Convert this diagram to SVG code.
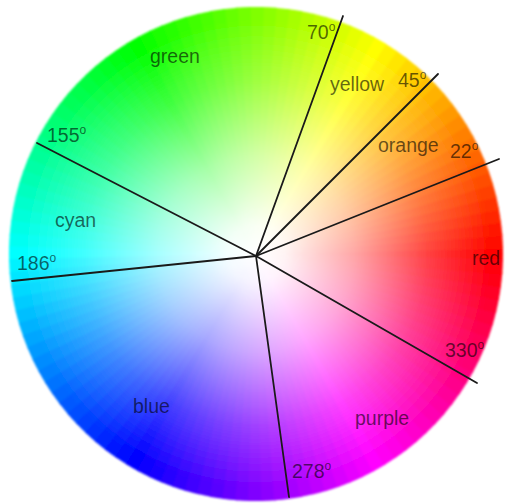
<svg xmlns="http://www.w3.org/2000/svg" xmlns:xlink="http://www.w3.org/1999/xlink" width="507" height="504" viewBox="0 0 507 504">
<style>
.lbl{font-family:"Liberation Sans",Arial,sans-serif;font-size:19.5px;fill:#000;fill-opacity:0.6}
.sup{font-size:12px}
.ln{stroke:#1a1a1a;stroke-width:1.8;fill:none;stroke-linecap:round}
</style>
<defs>
<path id="w" d="M0,0 L246.88,7.76 A247,247 0 0 0 246.88,-7.76 Z"/>
<radialGradient id="wh" cx="0" cy="0" r="247" gradientUnits="userSpaceOnUse">
<stop offset="0" stop-color="#fff" stop-opacity="1"/>
<stop offset="0.12" stop-color="#fff" stop-opacity="0.95"/>
<stop offset="0.4" stop-color="#fff" stop-opacity="0.65"/>
<stop offset="0.7" stop-color="#fff" stop-opacity="0.25"/>
<stop offset="0.95" stop-color="#fff" stop-opacity="0"/>
</radialGradient>
<filter id="soft" x="-5%" y="-5%" width="110%" height="110%"><feGaussianBlur stdDeviation="1.2"/></filter>
</defs>
<rect width="507" height="504" fill="#fff"/>
<g id="wheel" transform="translate(256,254)" filter="url(#soft)">
<use href="#w" transform="rotate(0)" fill="hsl(0,100%,50%)"/>
<use href="#w" transform="rotate(-3)" fill="hsl(3,100%,50%)"/>
<use href="#w" transform="rotate(-6)" fill="hsl(6,100%,50%)"/>
<use href="#w" transform="rotate(-9)" fill="hsl(9,100%,50%)"/>
<use href="#w" transform="rotate(-12)" fill="hsl(12,100%,50%)"/>
<use href="#w" transform="rotate(-15)" fill="hsl(15,100%,50%)"/>
<use href="#w" transform="rotate(-18)" fill="hsl(18,100%,50%)"/>
<use href="#w" transform="rotate(-21)" fill="hsl(21,100%,50%)"/>
<use href="#w" transform="rotate(-24)" fill="hsl(24,100%,50%)"/>
<use href="#w" transform="rotate(-27)" fill="hsl(27,100%,50%)"/>
<use href="#w" transform="rotate(-30)" fill="hsl(30,100%,50%)"/>
<use href="#w" transform="rotate(-33)" fill="hsl(33,100%,50%)"/>
<use href="#w" transform="rotate(-36)" fill="hsl(36,100%,50%)"/>
<use href="#w" transform="rotate(-39)" fill="hsl(39,100%,50%)"/>
<use href="#w" transform="rotate(-42)" fill="hsl(42,100%,50%)"/>
<use href="#w" transform="rotate(-45)" fill="hsl(45,100%,50%)"/>
<use href="#w" transform="rotate(-48)" fill="hsl(48,100%,50%)"/>
<use href="#w" transform="rotate(-51)" fill="hsl(51,100%,50%)"/>
<use href="#w" transform="rotate(-54)" fill="hsl(54,100%,50%)"/>
<use href="#w" transform="rotate(-57)" fill="hsl(57,100%,50%)"/>
<use href="#w" transform="rotate(-60)" fill="hsl(60,100%,50%)"/>
<use href="#w" transform="rotate(-63)" fill="hsl(63,100%,50%)"/>
<use href="#w" transform="rotate(-66)" fill="hsl(66,100%,50%)"/>
<use href="#w" transform="rotate(-69)" fill="hsl(69,100%,50%)"/>
<use href="#w" transform="rotate(-72)" fill="hsl(72,100%,50%)"/>
<use href="#w" transform="rotate(-75)" fill="hsl(75,100%,50%)"/>
<use href="#w" transform="rotate(-78)" fill="hsl(78,100%,50%)"/>
<use href="#w" transform="rotate(-81)" fill="hsl(81,100%,50%)"/>
<use href="#w" transform="rotate(-84)" fill="hsl(84,100%,50%)"/>
<use href="#w" transform="rotate(-87)" fill="hsl(87,100%,50%)"/>
<use href="#w" transform="rotate(-90)" fill="hsl(90,100%,50%)"/>
<use href="#w" transform="rotate(-93)" fill="hsl(93,100%,50%)"/>
<use href="#w" transform="rotate(-96)" fill="hsl(96,100%,50%)"/>
<use href="#w" transform="rotate(-99)" fill="hsl(99,100%,50%)"/>
<use href="#w" transform="rotate(-102)" fill="hsl(102,100%,50%)"/>
<use href="#w" transform="rotate(-105)" fill="hsl(105,100%,50%)"/>
<use href="#w" transform="rotate(-108)" fill="hsl(108,100%,50%)"/>
<use href="#w" transform="rotate(-111)" fill="hsl(111,100%,50%)"/>
<use href="#w" transform="rotate(-114)" fill="hsl(114,100%,50%)"/>
<use href="#w" transform="rotate(-117)" fill="hsl(117,100%,50%)"/>
<use href="#w" transform="rotate(-120)" fill="hsl(120,100%,50%)"/>
<use href="#w" transform="rotate(-123)" fill="hsl(123,100%,50%)"/>
<use href="#w" transform="rotate(-126)" fill="hsl(126,100%,50%)"/>
<use href="#w" transform="rotate(-129)" fill="hsl(129,100%,50%)"/>
<use href="#w" transform="rotate(-132)" fill="hsl(132,100%,50%)"/>
<use href="#w" transform="rotate(-135)" fill="hsl(135,100%,50%)"/>
<use href="#w" transform="rotate(-138)" fill="hsl(138,100%,50%)"/>
<use href="#w" transform="rotate(-141)" fill="hsl(141,100%,50%)"/>
<use href="#w" transform="rotate(-144)" fill="hsl(144,100%,50%)"/>
<use href="#w" transform="rotate(-147)" fill="hsl(147,100%,50%)"/>
<use href="#w" transform="rotate(-150)" fill="hsl(150,100%,50%)"/>
<use href="#w" transform="rotate(-153)" fill="hsl(153,100%,50%)"/>
<use href="#w" transform="rotate(-156)" fill="hsl(156,100%,50%)"/>
<use href="#w" transform="rotate(-159)" fill="hsl(159,100%,50%)"/>
<use href="#w" transform="rotate(-162)" fill="hsl(162,100%,50%)"/>
<use href="#w" transform="rotate(-165)" fill="hsl(165,100%,50%)"/>
<use href="#w" transform="rotate(-168)" fill="hsl(168,100%,50%)"/>
<use href="#w" transform="rotate(-171)" fill="hsl(171,100%,50%)"/>
<use href="#w" transform="rotate(-174)" fill="hsl(174,100%,50%)"/>
<use href="#w" transform="rotate(-177)" fill="hsl(177,100%,50%)"/>
<use href="#w" transform="rotate(-180)" fill="hsl(180,100%,50%)"/>
<use href="#w" transform="rotate(-183)" fill="hsl(183,100%,50%)"/>
<use href="#w" transform="rotate(-186)" fill="hsl(186,100%,50%)"/>
<use href="#w" transform="rotate(-189)" fill="hsl(189,100%,50%)"/>
<use href="#w" transform="rotate(-192)" fill="hsl(192,100%,50%)"/>
<use href="#w" transform="rotate(-195)" fill="hsl(195,100%,50%)"/>
<use href="#w" transform="rotate(-198)" fill="hsl(198,100%,50%)"/>
<use href="#w" transform="rotate(-201)" fill="hsl(201,100%,50%)"/>
<use href="#w" transform="rotate(-204)" fill="hsl(204,100%,50%)"/>
<use href="#w" transform="rotate(-207)" fill="hsl(207,100%,50%)"/>
<use href="#w" transform="rotate(-210)" fill="hsl(210,100%,50%)"/>
<use href="#w" transform="rotate(-213)" fill="hsl(213,100%,50%)"/>
<use href="#w" transform="rotate(-216)" fill="hsl(216,100%,50%)"/>
<use href="#w" transform="rotate(-219)" fill="hsl(219,100%,50%)"/>
<use href="#w" transform="rotate(-222)" fill="hsl(222,100%,50%)"/>
<use href="#w" transform="rotate(-225)" fill="hsl(225,100%,50%)"/>
<use href="#w" transform="rotate(-228)" fill="hsl(228,100%,50%)"/>
<use href="#w" transform="rotate(-231)" fill="hsl(231,100%,50%)"/>
<use href="#w" transform="rotate(-234)" fill="hsl(234,100%,50%)"/>
<use href="#w" transform="rotate(-237)" fill="hsl(237,100%,50%)"/>
<use href="#w" transform="rotate(-240)" fill="hsl(240,100%,50%)"/>
<use href="#w" transform="rotate(-243)" fill="hsl(243,100%,50%)"/>
<use href="#w" transform="rotate(-246)" fill="hsl(246,100%,50%)"/>
<use href="#w" transform="rotate(-249)" fill="hsl(249,100%,50%)"/>
<use href="#w" transform="rotate(-252)" fill="hsl(252,100%,50%)"/>
<use href="#w" transform="rotate(-255)" fill="hsl(255,100%,50%)"/>
<use href="#w" transform="rotate(-258)" fill="hsl(258,100%,50%)"/>
<use href="#w" transform="rotate(-261)" fill="hsl(261,100%,50%)"/>
<use href="#w" transform="rotate(-264)" fill="hsl(264,100%,50%)"/>
<use href="#w" transform="rotate(-267)" fill="hsl(267,100%,50%)"/>
<use href="#w" transform="rotate(-270)" fill="hsl(270,100%,50%)"/>
<use href="#w" transform="rotate(-273)" fill="hsl(273,100%,50%)"/>
<use href="#w" transform="rotate(-276)" fill="hsl(276,100%,50%)"/>
<use href="#w" transform="rotate(-279)" fill="hsl(279,100%,50%)"/>
<use href="#w" transform="rotate(-282)" fill="hsl(282,100%,50%)"/>
<use href="#w" transform="rotate(-285)" fill="hsl(285,100%,50%)"/>
<use href="#w" transform="rotate(-288)" fill="hsl(288,100%,50%)"/>
<use href="#w" transform="rotate(-291)" fill="hsl(291,100%,50%)"/>
<use href="#w" transform="rotate(-294)" fill="hsl(294,100%,50%)"/>
<use href="#w" transform="rotate(-297)" fill="hsl(297,100%,50%)"/>
<use href="#w" transform="rotate(-300)" fill="hsl(300,100%,50%)"/>
<use href="#w" transform="rotate(-303)" fill="hsl(303,100%,50%)"/>
<use href="#w" transform="rotate(-306)" fill="hsl(306,100%,50%)"/>
<use href="#w" transform="rotate(-309)" fill="hsl(309,100%,50%)"/>
<use href="#w" transform="rotate(-312)" fill="hsl(312,100%,50%)"/>
<use href="#w" transform="rotate(-315)" fill="hsl(315,100%,50%)"/>
<use href="#w" transform="rotate(-318)" fill="hsl(318,100%,50%)"/>
<use href="#w" transform="rotate(-321)" fill="hsl(321,100%,50%)"/>
<use href="#w" transform="rotate(-324)" fill="hsl(324,100%,50%)"/>
<use href="#w" transform="rotate(-327)" fill="hsl(327,100%,50%)"/>
<use href="#w" transform="rotate(-330)" fill="hsl(330,100%,50%)"/>
<use href="#w" transform="rotate(-333)" fill="hsl(333,100%,50%)"/>
<use href="#w" transform="rotate(-336)" fill="hsl(336,100%,50%)"/>
<use href="#w" transform="rotate(-339)" fill="hsl(339,100%,50%)"/>
<use href="#w" transform="rotate(-342)" fill="hsl(342,100%,50%)"/>
<use href="#w" transform="rotate(-345)" fill="hsl(345,100%,50%)"/>
<use href="#w" transform="rotate(-348)" fill="hsl(348,100%,50%)"/>
<use href="#w" transform="rotate(-351)" fill="hsl(351,100%,50%)"/>
<use href="#w" transform="rotate(-354)" fill="hsl(354,100%,50%)"/>
<use href="#w" transform="rotate(-357)" fill="hsl(357,100%,50%)"/>
<circle r="247" fill="url(#wh)"/>
</g>
<g id="connectors">
<line class="ln" x1="256" y1="256" x2="343" y2="16"/>
<line class="ln" x1="256" y1="256" x2="438" y2="74"/>
<line class="ln" x1="256" y1="256" x2="499" y2="159"/>
<line class="ln" x1="256" y1="256" x2="477" y2="383"/>
<line class="ln" x1="256" y1="256" x2="289" y2="497"/>
<line class="ln" x1="256" y1="256" x2="12" y2="281"/>
<line class="ln" x1="256" y1="256" x2="37" y2="143"/>
</g>
<g id="labels">
<text class="lbl" x="150" y="63">green</text>
<text class="lbl" x="330" y="91">yellow</text>
<text class="lbl" x="378" y="152">orange</text>
<text class="lbl" x="472" y="265">red</text>
<text class="lbl" x="355" y="425">purple</text>
<text class="lbl" x="133" y="413">blue</text>
<text class="lbl" x="55" y="227">cyan</text>
</g>
<g id="angles">
<text class="lbl" x="307" y="39">70<tspan class="sup" dy="-8">o</tspan></text>
<text class="lbl" x="398" y="87">45<tspan class="sup" dy="-8">o</tspan></text>
<text class="lbl" x="450" y="158">22<tspan class="sup" dy="-8">o</tspan></text>
<text class="lbl" x="445" y="357">330<tspan class="sup" dy="-8">o</tspan></text>
<text class="lbl" x="292" y="478">278<tspan class="sup" dy="-8">o</tspan></text>
<text class="lbl" x="17" y="270">186<tspan class="sup" dy="-8">o</tspan></text>
<text class="lbl" x="47" y="142">155<tspan class="sup" dy="-8">o</tspan></text>
</g>
</svg>
